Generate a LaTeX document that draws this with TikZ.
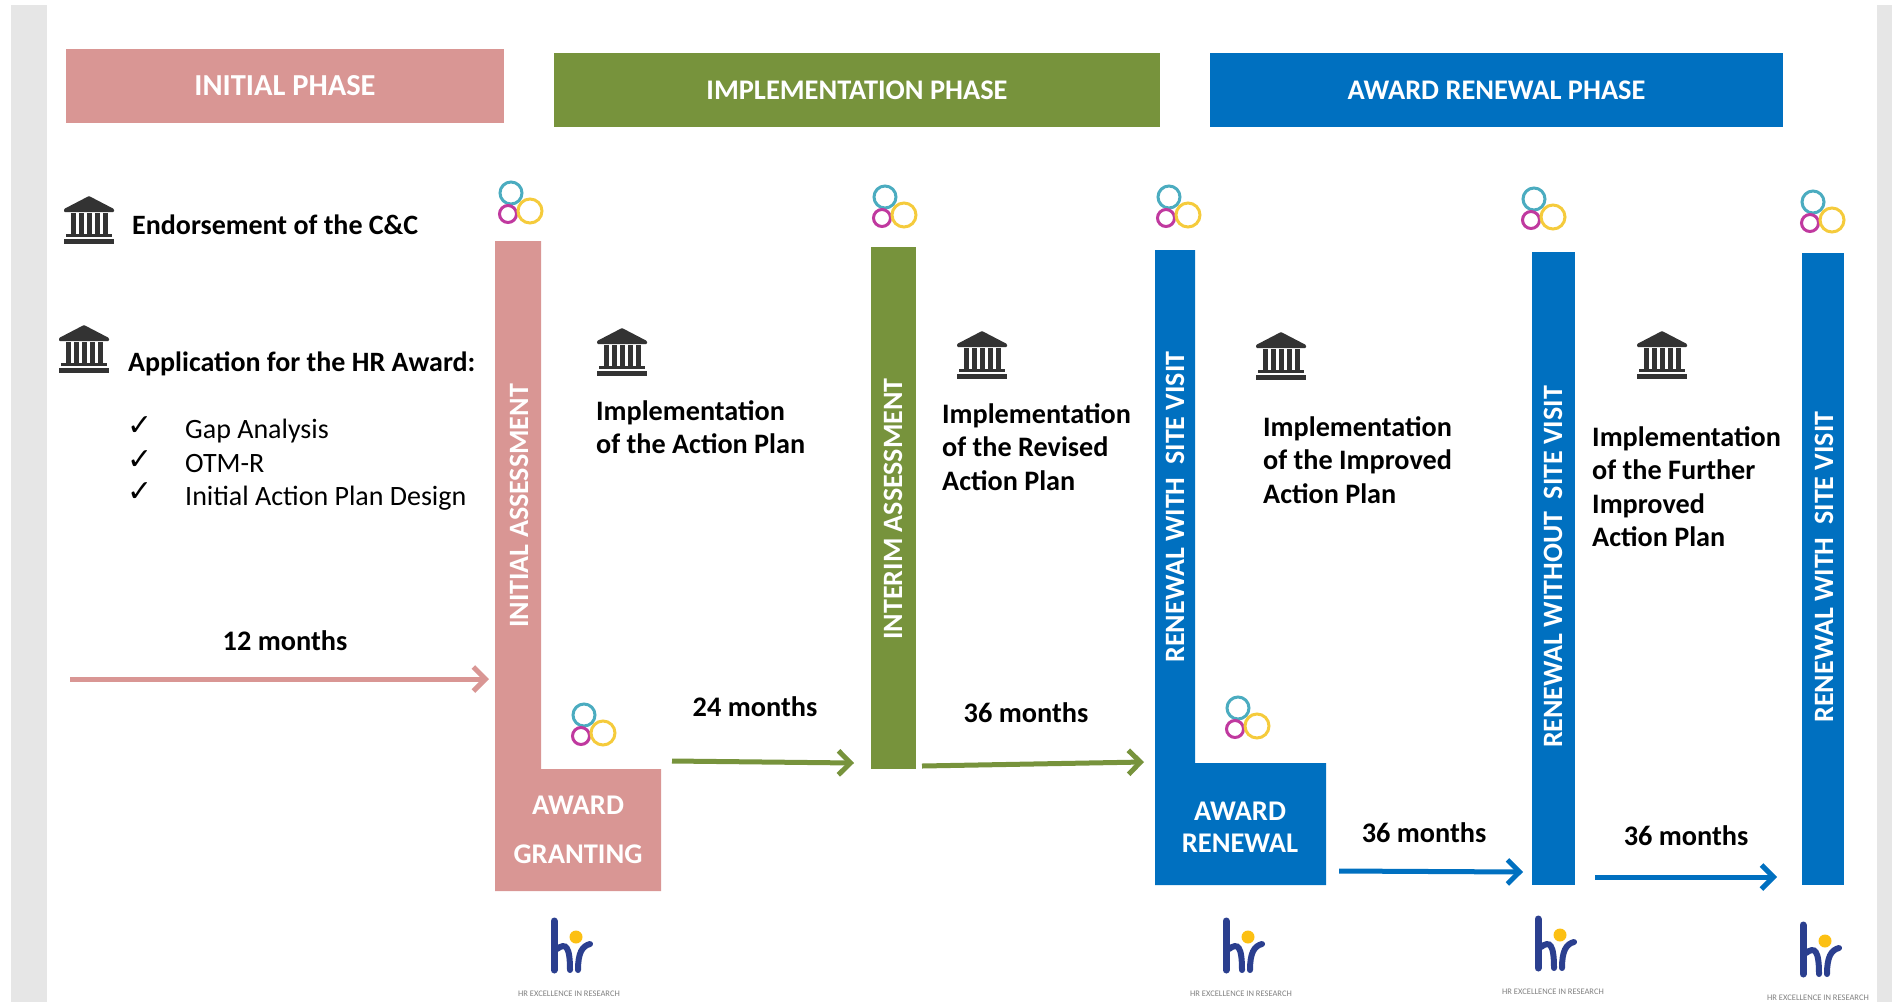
\documentclass[tikz,border=0pt]{standalone}
\usepackage{fontspec}
\setmainfont{Carlito}
\newfontfamily\symfont{DejaVu Sans}
\usetikzlibrary{positioning, arrows.meta}

\definecolor{pinkphase}{HTML}{D99694}
\definecolor{greenphase}{HTML}{77933C}
\definecolor{bluephase}{HTML}{0070C0}
\definecolor{bandgrey}{HTML}{E6E6E6}
\definecolor{bankdark}{HTML}{333333}
\definecolor{hrblue}{HTML}{2B3F8F}
\definecolor{hryellow}{HTML}{FCC013}
\definecolor{ringteal}{HTML}{4BACC0}
\definecolor{ringpink}{HTML}{C0399F}
\definecolor{ringyellow}{HTML}{F5CB3C}

\tikzset{
    header/.style={text=white, font=\fontsize{28.4}{32}\selectfont\bfseries, minimum height=74pt, inner sep=0pt},
    barlabel/.style={text=white, font=\fontsize{28}{32}\selectfont\bfseries, rotate=90, inner sep=0pt},
    boxlabel/.style={text=white, font=\fontsize{28.5}{32}\selectfont\bfseries, inner sep=0pt},
    heading/.style={anchor=west, font=\fontsize{28}{32}\selectfont\bfseries, inner sep=0pt},
    item/.style={anchor=west, font=\fontsize{28}{32}\selectfont, inner sep=0pt},
    tick/.style={font=\symfont\fontsize{30}{32}\selectfont, inner sep=0pt},
    months/.style={font=\fontsize{28.3}{32}\selectfont\bfseries, inner sep=0pt},
    plan/.style={anchor=north west, align=left, font=\fontsize{28.2}{33.5}\selectfont\bfseries, inner sep=0pt},
    span/.style={line width=5pt, -{Straight Barb[length=12pt, width=24pt, line width=5pt]}},
    bank/.pic={
        \fill[bankdark, rounded corners=1pt] (-25,-11) -- (0,-24) -- (25,-11) -- (25,-8) -- (-25,-8) -- cycle;
        \foreach \px in {-16,-8,0,8,16}
            \fill[bankdark] (\px-2.5,-7) rectangle (\px+2.5,14);
        \fill[bankdark] (-23,14) rectangle (23,17);
        \fill[bankdark] (-25,19) rectangle (25,24);
    },
    rings/.pic={
        \draw[ringteal, line width=3pt] (0,0) circle (11);
        \draw[ringpink, line width=3pt] (-3,21) circle (8.5);
        \draw[ringyellow, line width=3pt] (19,18) circle (12);
    },
    hrlogo/.pic={
        \draw[hrblue, line width=7pt, line cap=round] (-22,-16) -- (-22,33);
        \draw[hrblue, line width=6pt, line cap=round] (-19,12) .. controls (-10,5) and (-6,10) .. (-6,33);
        \draw[hrblue, line width=6pt, line cap=round] (14,7) .. controls (6,9) and (2,16) .. (2,33);
        \fill[hryellow] (0,0) circle (6.5);
        \node[text=gray, font=\fontsize{8.5}{10}\selectfont, inner sep=0pt] at (-7,57) {HR EXCELLENCE IN RESEARCH};
    },
}

\begin{document}
\begin{tikzpicture}[x=1pt, y=-1pt]
    \useasboundingbox (0,0) rectangle (1892,1002);

    % Grey side bands
    \fill[bandgrey] (11,5) rectangle (47,1002);
    \fill[bandgrey] (1877,5) rectangle (1892,1002);

    % Phase headers
    \node[header, fill=pinkphase, minimum width=438pt, font=\fontsize{30.5}{32}\selectfont\bfseries] (initialphase) at (285,86) {INITIAL PHASE};
    \node[header, fill=greenphase, minimum width=606pt] (implphase) at (857,90) {IMPLEMENTATION PHASE};
    \node[header, fill=bluephase, minimum width=573pt] (renewalphase) at (1496.5,90) {AWARD RENEWAL PHASE};

    % Stepped bars
    \fill[pinkphase] (495,241) -- (541,241) -- (541,769) -- (661,769) -- (661,891) -- (495,891) -- cycle;
    \fill[greenphase] (871,247) rectangle (916,769);
    \fill[bluephase] (1155,250) -- (1195,250) -- (1195,763) -- (1326,763) -- (1326,885) -- (1155,885) -- cycle;
    \fill[bluephase] (1532,252) rectangle (1575,885);
    \fill[bluephase] (1802,253) rectangle (1844,885);

    % Bar labels
    \node[barlabel] (initialbar) at (519,506) {INITIAL ASSESSMENT};
    \node[barlabel] (interimbar) at (893,509) {INTERIM ASSESSMENT};
    \node[barlabel] (renewalbara) at (1175,507) {RENEWAL WITH\ \ SITE VISIT};
    \node[barlabel] (renewalbarb) at (1553,567) {RENEWAL WITHOUT\ \ SITE VISIT};
    \node[barlabel] (renewalbarc) at (1824,567) {RENEWAL WITH\ \ SITE VISIT};

    \node[boxlabel] (granta) at (578,805) {AWARD};
    \node[boxlabel] (grantb) at (578,854) {GRANTING};
    \node[boxlabel] (renewa) at (1240,811) {AWARD};
    \node[boxlabel] (renewb) at (1240,843) {RENEWAL};

    % Left column
    \pic at (89,220) {bank};
    \node[heading] (endorse) at (132,225) {Endorsement of the C\&C};
    \pic at (84,349) {bank};
    \node[heading] (apply) at (128,364) {Application for the HR Award:};

    \node[tick] (ticka) at (140,426) {✓};
    \node[tick] (tickb) at (140,460) {✓};
    \node[tick] (tickc) at (140,492) {✓};
    \node[item] (gap) at (185,431) {Gap Analysis};
    \node[item] (otm) at (185,464) {OTM-R};
    \node[item] (design) at (185,498) {Initial Action Plan Design};

    % Implementation texts
    \pic at (622,352) {bank};
    \node[plan] (plana) at (596,400) {Implementation\\of the Action Plan};
    \pic at (982,355) {bank};
    \node[plan] (planb) at (942,403) {Implementation\\of the Revised\\Action Plan};
    \pic at (1281,356) {bank};
    \node[plan] (planc) at (1263,416) {Implementation\\of the Improved\\Action Plan};
    \pic at (1662,355) {bank};
    \node[plan] (pland) at (1592,426) {Implementation\\of the Further\\Improved\\Action Plan};

    % Durations
    \node[months] (montha) at (285,641) {12 months};
    \node[months] (monthb) at (755,707) {24 months};
    \node[months] (monthc) at (1026,713) {36 months};
    \node[months] (monthd) at (1424,833) {36 months};
    \node[months] (monthe) at (1686,836) {36 months};

    \coordinate (spanas) at (70,679);
    \coordinate (spanae) at (489,679);
    \coordinate (spanbs) at (672,761);
    \coordinate (spanbe) at (854,763);
    \coordinate (spancs) at (922,766);
    \coordinate (spance) at (1144,762);
    \coordinate (spands) at (1339,871);
    \coordinate (spande) at (1523,872);
    \coordinate (spanes) at (1595,877);
    \coordinate (spanee) at (1777,877);
    \draw[span, pinkphase] (spanas) -- (spanae);
    \draw[span, greenphase] (spanbs) -- (spanbe);
    \draw[span, greenphase] (spancs) -- (spance);
    \draw[span, bluephase] (spands) -- (spande);
    \draw[span, bluephase] (spanes) -- (spanee);

    % Ring logos
    \pic at (511,193) {rings};
    \pic at (885,197) {rings};
    \pic at (1169,197) {rings};
    \pic at (1534,199) {rings};
    \pic at (1813,202) {rings};
    \pic at (584,715) {rings};
    \pic at (1238,708) {rings};

    % HR logos
    \pic at (576,937) {hrlogo};
    \pic at (1248,937) {hrlogo};
    \pic at (1560,935) {hrlogo};
    \pic at (1825,941) {hrlogo};
\end{tikzpicture}
\end{document}
